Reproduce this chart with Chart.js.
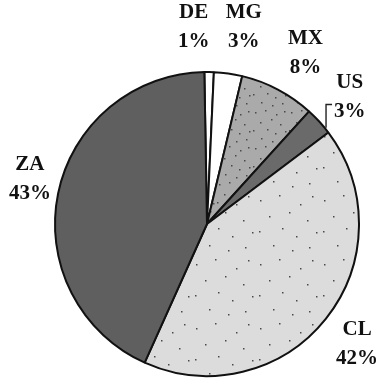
<!DOCTYPE html>
<html>
<head>
<meta charset="utf-8">
<script src="https://cdn.jsdelivr.net/npm/chart.js@4.4.1/dist/chart.umd.min.js"></script>
<style>
  html, body { margin: 0; padding: 0; background: #ffffff; }
  #wrap { width: 378px; height: 381px; position: relative; }
</style>
</head>
<body>
<div id="wrap"><canvas id="pie" width="378" height="381"></canvas></div>
<script>
// Country codes and their shares (percent), clockwise from the top
const countries = ['DE', 'MG', 'MX', 'US', 'CL', 'ZA'];
const shares = [1, 3, 8, 3, 42, 43];

// Slice fills: plain greys, two of them speckled
const baseFills = ['#ffffff', '#ffffff', '#aaaaaa', '#6a6a6a', '#dcdcdc', '#5f5f5f'];
const speckTile = [null, null, 36, null, 64, null];

// Fixed speckle layout, given as fractions of the tile size
const speckDots = [
  [0.07, 0.12], [0.36, 0.05], [0.68, 0.18], [0.88, 0.07], [0.21, 0.38],
  [0.52, 0.31], [0.79, 0.44], [0.04, 0.61], [0.41, 0.57], [0.63, 0.69],
  [0.93, 0.63], [0.26, 0.83], [0.56, 0.91], [0.83, 0.86]
];

function makeSpeckle(bg, dot, size) {
  const c = document.createElement('canvas');
  c.width = size; c.height = size;
  const g = c.getContext('2d');
  g.fillStyle = bg;
  g.fillRect(0, 0, size, size);
  g.fillStyle = dot;
  speckDots.forEach(([x, y]) => g.fillRect(Math.round(x * size), Math.round(y * size), 1.5, 1.5));
  return g.createPattern(c, 'repeat');
}

const fills = baseFills.map((f, i) => speckTile[i] ? makeSpeckle(f, '#4a4a4a', speckTile[i]) : f);

// Label placement: distance beyond the rim, plus small per-label nudges
const labelGap = 40;
const labelNudge = {
  DE: [-16, -5], MG: [10, -7], MX: [9, -1], US: [1, 3], CL: [0, 0], ZA: [11, -6]
};
const leaderFor = ['US'];

const sliceLabels = {
  id: 'sliceLabels',
  afterDatasetsDraw(chart) {
    const ctx = chart.ctx;
    const meta = chart.getDatasetMeta(0);
    ctx.save();
    ctx.fillStyle = '#111111';
    ctx.strokeStyle = '#222222';
    ctx.font = 'bold 21px "Liberation Serif", "Times New Roman", serif';
    ctx.textAlign = 'center';
    ctx.textBaseline = 'middle';
    meta.data.forEach((arc, i) => {
      const p = arc.getProps(['x', 'y', 'startAngle', 'endAngle', 'outerRadius'], true);
      const mid = (p.startAngle + p.endAngle) / 2;
      const d = p.outerRadius + labelGap;
      const name = countries[i];
      const nudge = labelNudge[name] || [0, 0];
      const lx = p.x + Math.cos(mid) * d + nudge[0];
      const ly = p.y + Math.sin(mid) * d + nudge[1];
      const pct = shares[i] + '%';
      ctx.fillText(name, lx, ly - 14.5);
      ctx.fillText(pct, lx, ly + 14.5);
      if (leaderFor.includes(name)) {
        const w = ctx.measureText(pct).width;
        const vx = lx - w / 2 - 8;
        const topY = ly + 14.5 - 7.5;
        const rr = p.outerRadius + 1;
        const rimY = p.y - Math.sqrt(Math.max(rr * rr - (vx - p.x) * (vx - p.x), 0));
        ctx.lineWidth = 1.4;
        ctx.beginPath();
        ctx.moveTo(vx, rimY);
        ctx.lineTo(vx, topY);
        ctx.lineTo(vx + 6, topY);
        ctx.stroke();
      }
    });
    ctx.restore();
  }
};

new Chart(document.getElementById('pie'), {
  type: 'pie',
  data: {
    labels: countries,
    datasets: [{
      data: shares,
      backgroundColor: fills,
      borderColor: '#111111',
      borderWidth: 2
    }]
  },
  options: {
    responsive: false,
    animation: false,
    rotation: -1,
    layout: { padding: { left: 54, right: 18, top: 71, bottom: 4 } },
    plugins: {
      legend: { display: false },
      tooltip: { enabled: false }
    }
  },
  plugins: [sliceLabels]
});
</script>
</body>
</html>
